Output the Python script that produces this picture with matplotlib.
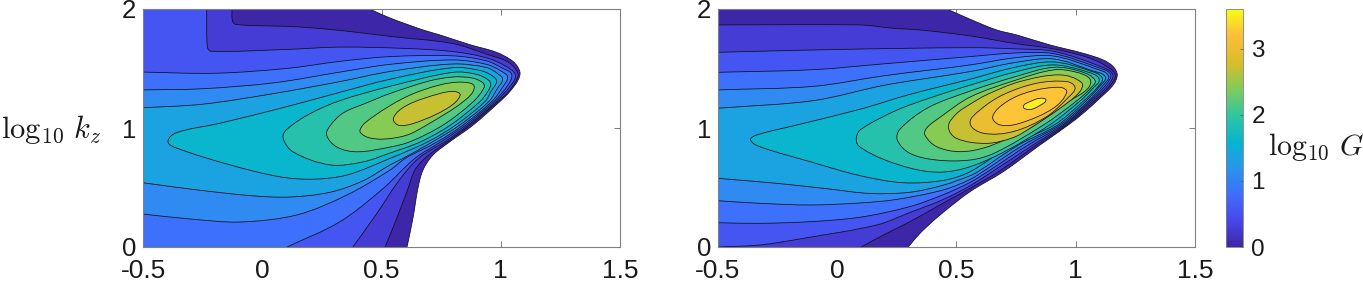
import numpy as np
import matplotlib
matplotlib.use('Agg')
import matplotlib.pyplot as plt
from matplotlib.path import Path
from matplotlib.patches import PathPatch
from matplotlib.colors import LinearSegmentedColormap, Normalize
from matplotlib.cm import ScalarMappable

plt.rcParams['font.family'] = ['Liberation Sans', 'DejaVu Sans']
plt.rcParams['mathtext.fontset'] = 'cm'

levels = [0, 0.27, 0.54, 0.81, 1.08, 1.35, 1.62, 1.89, 2.16, 2.43, 2.7, 2.97, 3.24, 3.51]
cmax = 3.6
x_ticks = [-0.5, 0, 0.5, 1, 1.5]
x_labels = ['-0.5', '0', '0.5', '1', '1.5']
y_ticks = [0, 1, 2]
y_labels = ['0', '1', '2']
cbar_ticks = [0, 1, 2, 3]

# left panel
a0 = [(.45,2),(.536,1.924),(.674,1.824),(.745,1.782),(.871,1.70),(.982,1.636),(1.052,1.558),(1.08,1.474),(1.073,1.404),(1.038,1.306),(.996,1.222),(.885,1.026),(.787,.885),(.716,.773),(.674,.647),(.653,.496),(.632,.244),(.607,0)]
a1 = [(-.127,2),(-.125,1.90),(-.11,1.87),(.146,1.85),(.326,1.82),(.536,1.77),(.801,1.709),(.94,1.62),(1.03,1.555),(1.072,1.46),(1.062,1.39),(1.03,1.30),(.988,1.222),(.873,1.026),(.776,.885),(.69,.76),(.64,.647),(.611,.49),(.564,.241),(.515,0)]
a2 = [(-.233,2),(-.23,1.68),(-.215,1.645),(.1,1.66),(.326,1.68),(.607,1.668),(.801,1.642),(.94,1.59),(1.02,1.52),(1.061,1.45),(1.05,1.38),(.98,1.222),(.864,1.026),(.765,.885),(.655,.745),(.57,.55),(.48,.28),(.38,0)]
a3 = [(-.5,1.47),(-.2,1.46),(.1,1.50),(.326,1.56),(.536,1.60),(.801,1.606),(.94,1.564),(1.01,1.50),(1.046,1.45),(1.03,1.36),(.971,1.222),(.854,1.026),(.75,.885),(.64,.745),(.506,.49),(.326,.213),(.104,0)]
a4 = [(-.5,1.32),(-.25,1.33),(.05,1.38),(.326,1.47),(.536,1.535),(.801,1.572),(.94,1.535),(1.0,1.48),(1.029,1.43),(1.01,1.35),(.962,1.222),(.843,1.026),(.735,.885),(.60,.745),(.536,.647),(.355,.437),(.146,.27),(-.093,.21),(-.3,.235),(-.5,.277)]
a5 = [(-.5,1.17),(-.25,1.20),(.05,1.29),(.326,1.39),(.536,1.475),(.801,1.538),(.94,1.508),(.985,1.46),(1.008,1.41),(.985,1.33),(.95,1.222),(.829,1.026),(.715,.885),(.59,.745),(.536,.69),(.422,.556),(.284,.46),(.116,.42),(-.04,.43),(-.274,.48),(-.5,.54)]
a6 = [(-.395,.885),(-.36,.96),(-.177,1.04),(.104,1.18),(.326,1.30),(.536,1.41),(.801,1.507),(.92,1.48),(.97,1.43),(.983,1.39),(.96,1.31),(.934,1.222),(.812,1.026),(.695,.885),(.536,.745),(.355,.605),(.213,.57),(.074,.59),(-.135,.69),(-.357,.83)]
a7 = [(.087,.92),(.104,.99),(.2,1.12),(.326,1.23),(.536,1.35),(.801,1.468),(.90,1.45),(.95,1.40),(.958,1.36),(.94,1.29),(.913,1.222),(.79,1.026),(.665,.885),(.536,.79),(.422,.715),(.284,.69),(.129,.80)]
a8 = [(.27,.94),(.285,1.02),(.339,1.126),(.43,1.205),(.536,1.29),(.70,1.395),(.801,1.429),(.88,1.42),(.925,1.38),(.93,1.34),(.885,1.222),(.759,1.026),(.62,.885),(.536,.84),(.397,.80),(.313,.84)]
a9 = [(.41,.984),(.466,1.096),(.606,1.264),(.745,1.362),(.843,1.385),(.889,1.345),(.843,1.222),(.69,1.026),(.606,.94),(.508,.907),(.438,.925)]
a10 = [(.55,1.082),(.606,1.19),(.745,1.29),(.808,1.306),(.83,1.275),(.787,1.18),(.675,1.068),(.578,1.02)]
left_outlines = [a0, a1, a2, a3, a4, a5, a6, a7, a8, a9, a10]

# right panel
b0 = [(.46,2),(.55,1.92),(.668,1.824),(.752,1.782),(.892,1.698),(1.031,1.628),(1.115,1.572),(1.157,1.516),(1.174,1.446),(1.157,1.362),(1.101,1.25),(1.031,1.124),(.969,1.026),(.85,.857),(.696,.633),(.557,.465),(.431,.269),(.347,.115),(.298,0)]
b1 = [(-.5,1.866),(.095,1.866),(.235,1.838),(.347,1.824),(.557,1.774),(.745,1.71),(.906,1.665),(1.04,1.60),(1.11,1.54),(1.165,1.45),(1.145,1.36),(1.075,1.222),(.961,1.026),(.835,.857),(.675,.633),(.557,.493),(.445,.37),(.305,.213),(.193,.10),(.10,0)]
b2 = [(-.5,1.636),(.0,1.66),(.557,1.675),(.745,1.665),(.906,1.645),(1.10,1.52),(1.155,1.45),(1.135,1.36),(1.065,1.222),(.953,1.026),(.82,.857),(.65,.633),(.557,.515),(.445,.40),(.305,.29),(.165,.185),(-.142,.073),(-.324,.017),(-.5,0)]
b3 = [(-.5,1.468),(-.1,1.49),(.2,1.54),(.557,1.60),(.745,1.63),(.906,1.625),(1.09,1.51),(1.146,1.45),(1.125,1.36),(1.057,1.222),(.945,1.026),(.80,.857),(.63,.633),(.557,.543),(.445,.44),(.305,.34),(.095,.25),(-.114,.213),(-.324,.199),(-.5,.204)]
b4 = [(-.5,1.32),(-.1,1.35),(.2,1.44),(.557,1.53),(.745,1.59),(.906,1.605),(1.08,1.50),(1.137,1.44),(1.115,1.36),(1.05,1.222),(.935,1.026),(.78,.857),(.61,.633),(.557,.568),(.445,.48),(.249,.40),(.095,.37),(-.114,.353),(-.324,.367),(-.5,.389)]
b5 = [(-.5,1.166),(-.1,1.23),(.2,1.36),(.557,1.474),(.745,1.55),(.906,1.58),(1.07,1.48),(1.124,1.43),(1.10,1.35),(1.04,1.222),(.925,1.026),(.76,.857),(.59,.633),(.557,.599),(.445,.52),(.305,.46),(.137,.45),(-.044,.49),(-.254,.535),(-.5,.577)]
b6 = [(-.363,.899),(-.338,.941),(-.17,1.025),(.1,1.16),(.3,1.28),(.557,1.41),(.745,1.51),(.906,1.555),(1.06,1.48),(1.111,1.42),(1.09,1.34),(1.03,1.222),(.91,1.026),(.73,.857),(.557,.633),(.445,.56),(.277,.54),(.095,.60),(-.114,.717),(-.324,.843)]
b7 = [(.08,.92),(.10,.99),(.25,1.15),(.40,1.26),(.557,1.36),(.745,1.47),(.906,1.53),(1.05,1.47),(1.098,1.41),(1.07,1.33),(1.015,1.222),(.89,1.026),(.70,.80),(.557,.675),(.445,.63),(.333,.65),(.19,.74),(.09,.85)]
b8 = [(.252,.899),(.263,.99),(.38,1.17),(.557,1.31),(.745,1.43),(.906,1.51),(1.02,1.475),(1.081,1.40),(1.06,1.33),(1.0,1.222),(.865,1.026),(.66,.79),(.557,.731),(.417,.731),(.305,.787)]
b9 = [(.368,.94),(.375,1.0),(.431,1.09),(.557,1.26),(.745,1.40),(.906,1.488),(1.0,1.47),(1.06,1.41),(1.05,1.33),(.97,1.222),(.83,1.026),(.766,.96),(.627,.84),(.515,.801),(.417,.843)]
b10 = [(.466,1.012),(.50,1.12),(.557,1.2),(.627,1.28),(.766,1.39),(.934,1.446),(1.025,1.38),(1.015,1.30),(.93,1.16),(.81,1.0),(.738,.92),(.627,.871),(.5,.913)]
b11 = [(.557,1.04),(.599,1.152),(.696,1.28),(.836,1.376),(.962,1.39),(.997,1.34),(.97,1.26),(.878,1.096),(.738,.97),(.613,.956)]
b12 = [(.652,1.096),(.71,1.22),(.808,1.306),(.934,1.342),(.962,1.30),(.906,1.166),(.766,1.04),(.682,1.026)]
b13 = [(.78,1.18),(.812,1.225),(.85,1.25),(.875,1.235),(.85,1.19),(.808,1.155)]
right_outlines = [b0, b1, b2, b3, b4, b5, b6, b7, b8, b9, b10, b11, b12, b13]

cmap = LinearSegmentedColormap.from_list('parula', [
    (.2422, .1504, .6603), (.2803, .2782, .9221), (.2440, .4358, .9988),
    (.1540, .5902, .9218), (.0297, .7082, .8163), (.1938, .7758, .6251),
    (.5044, .7993, .3480), (.8634, .7406, .1596), (.9892, .7400, .2300),
    (.9769, .9839, .0805)], N=256)
norm = Normalize(0, cmax)


# bezier path through the points, tangents scaled in screen space
def bezier(pts, closed):
    p = np.array(pts, dtype=float)
    s = np.array([238.5, 119.0])
    n = len(p)
    if closed:
        prev = np.roll(p, 1, axis=0)
        nxt = np.roll(p, -1, axis=0)
    else:
        prev = np.vstack([p[0], p[:-1]])
        nxt = np.vstack([p[1:], p[-1]])
    t = (nxt - prev) * s
    t = t / np.linalg.norm(t, axis=1, keepdims=True)
    verts = [p[0]]
    codes = [Path.MOVETO]
    for i in range(n if closed else n - 1):
        j = (i + 1) % n
        d = np.linalg.norm((p[j] - p[i]) * s) / 3
        verts += [p[i] + t[i] * d / s, p[j] - t[j] * d / s, p[j]]
        codes += [Path.CURVE4] * 3
    return verts, codes


def draw_panel(ax, outlines):
    for level, pts in zip(levels, outlines):
        on_edge = pts[0][0] == -.5 or pts[0][1] == 2
        closed = not on_edge
        verts, codes = bezier(pts, closed)
        fv, fc = list(verts), list(codes)
        if not closed:
            if pts[-1][1] == 0 and pts[-1][0] > -.5:
                fv.append((-.5, 0)); fc.append(Path.LINETO)
            if pts[0][1] == 2 and pts[0][0] > -.5:
                fv.append((-.5, 2)); fc.append(Path.LINETO)
            fv.append(pts[0]); fc.append(Path.LINETO)
        ax.add_patch(PathPatch(Path(fv, fc), fc=cmap(norm(level)), ec='none', zorder=2))
        ax.add_patch(PathPatch(Path(verts, codes), fc='none', ec='#101010', lw=0.55, zorder=2))
    ax.set_xlim(-.5, 1.5)
    ax.set_ylim(0, 2)
    ax.set_xticks(x_ticks)
    ax.set_xticklabels(x_labels)
    ax.set_yticks(y_ticks)
    ax.set_yticklabels(y_labels)
    ax.tick_params(direction='in', top=True, right=True, length=4.5, width=.6, color='#666666',
                   labelcolor='#1a1a1a')
    ax.tick_params(axis='x', labelsize=19, pad=8.5)
    ax.tick_params(axis='y', labelsize=18.5, pad=5)
    for sp in ax.spines.values():
        sp.set_color('#808080')
        sp.set_linewidth(.8)
        sp.set_zorder(3)


W, H = 1363, 284
fig = plt.figure(figsize=(W / 100, H / 100), dpi=100)
ax1 = fig.add_axes([143 / W, 37 / H, 477 / W, 238 / H])
ax2 = fig.add_axes([718 / W, 37 / H, 477 / W, 238 / H])
draw_panel(ax1, left_outlines)
draw_panel(ax2, right_outlines)

cax = fig.add_axes([1226 / W, 37 / H, 17 / W, 238 / H])
cb = fig.colorbar(ScalarMappable(norm=norm, cmap=cmap), cax=cax)
cb.set_ticks(cbar_ticks)
cb.ax.tick_params(direction='in', length=2.5, width=.5, color='#555555', labelsize=17.5, labelcolor='#1a1a1a', pad=6)
cb.outline.set_edgecolor('#808080')
cb.outline.set_linewidth(.6)

fig.text(1 / W, 1 - 129 / H, r'$\log_{10}\,k_z$', fontsize=22, va='center', ha='left', color='#1a1a1a')
fig.text(1268 / W, 1 - 147 / H, r'$\log_{10}\,G$', fontsize=21.5, va='center', ha='left', color='#1a1a1a')

fig.savefig('out.png', dpi=100)
